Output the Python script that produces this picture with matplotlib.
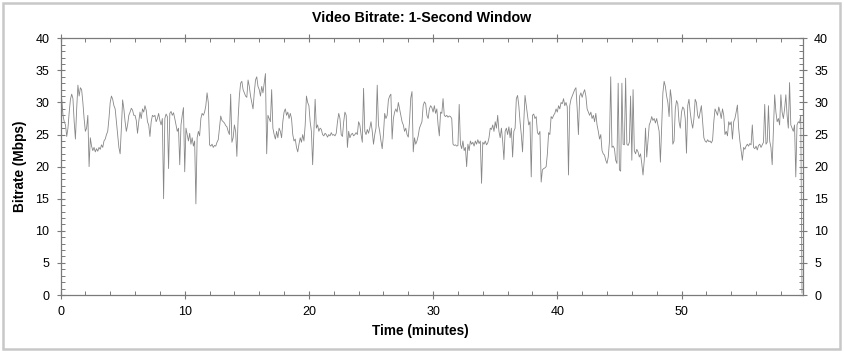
import numpy as np
import matplotlib
matplotlib.use('Agg')
import matplotlib.pyplot as plt
from matplotlib.ticker import MultipleLocator
from matplotlib.patches import Rectangle

plt.rcParams['font.family'] = ['Liberation Sans', 'DejaVu Sans']

# bitrate samples (Mbps), one every 0.1 minute
rate_00_10 = [
    3.5, 30.5, 28.0, 27.0, 26.5, 24.7, 26.0, 28.5, 30.5, 31.3,
    30.6, 27.0, 24.3, 29.0, 32.7, 31.0, 32.3, 32.0, 30.0, 27.5,
    25.5, 26.0, 28.0, 20.0, 24.5, 23.2, 22.5, 23.0, 22.3, 22.8,
    22.4, 23.0, 22.7, 23.4, 23.0, 24.0, 24.3, 25.0, 25.5, 27.5,
    30.0, 31.0, 30.5, 29.5, 29.0, 27.0, 25.0, 23.0, 22.0, 26.0,
    30.4, 29.0, 27.0, 25.5, 26.5, 28.0, 28.5, 29.1, 28.8, 28.0,
    28.0, 27.2, 25.2, 27.0, 28.5, 27.5, 29.0, 28.5, 29.5, 28.8,
    27.0, 26.5, 24.7, 27.0, 28.0, 27.8, 28.0, 27.0, 27.5, 28.3,
    27.2, 26.5, 27.5, 15.0, 27.5, 28.2, 27.8, 19.7, 28.3, 28.6,
    28.0, 28.4, 27.5, 26.5, 25.5, 26.0, 20.3, 26.5, 28.0, 29.2,
]
rate_10_20 = [
    19.2, 26.0, 25.0, 24.0, 25.2, 23.5, 24.5, 23.2, 24.0, 14.2,
    24.5, 25.5, 24.8, 27.5, 28.3, 28.0, 28.5, 29.5, 31.5, 30.0,
    23.4, 23.2, 23.5, 23.0, 23.3, 23.2, 23.8, 24.2, 26.0, 27.9,
    27.2, 27.0, 26.8, 26.4, 26.2, 25.5, 25.0, 31.3, 23.8, 24.5,
    26.5, 25.5, 21.6, 27.5, 31.0, 33.0, 33.3, 32.0, 31.5, 31.0,
    30.8, 33.5, 32.5, 31.0, 30.0, 29.0, 31.5, 33.5, 34.0, 32.5,
    32.0, 31.0, 32.5, 31.5, 33.0, 34.5, 22.0, 28.0, 27.5, 27.0,
    32.0, 26.0, 25.0, 24.3, 25.5, 24.5, 26.0, 25.5, 24.5, 27.0,
    28.5, 29.0, 28.0, 28.5, 27.5, 28.3, 27.5, 25.0, 24.0, 24.3,
    23.0, 22.3, 23.5, 24.5, 23.8, 25.0, 24.0, 26.5, 31.0, 30.0,
]
rate_20_30 = [
    29.5, 27.0, 25.5, 20.3, 25.5, 30.5, 26.0, 26.5, 25.5, 26.0,
    25.8, 25.0, 24.8, 25.2, 25.0, 24.6, 25.0, 24.8, 25.3, 24.9,
    25.0, 24.8, 25.2, 27.0, 28.3, 27.5, 25.0, 24.7, 27.0, 28.5,
    28.0, 23.0, 25.5, 24.5, 25.0, 25.2, 24.8, 25.0, 25.3, 25.0,
    27.0, 26.5, 25.0, 23.8, 32.2, 25.5, 25.0, 25.8, 25.2, 26.0,
    27.0, 25.5, 23.5, 25.0, 26.0, 32.7, 26.5, 25.5, 24.0, 22.8,
    25.0, 28.3, 27.5, 28.0, 30.4, 31.0, 31.3, 24.3, 27.5, 28.5,
    29.0, 28.5, 30.0, 29.0, 28.0, 27.0, 26.5, 25.5, 26.0, 25.0,
    24.6, 27.0, 30.7, 31.7, 22.3, 24.5, 23.5, 24.0, 24.8, 26.0,
    26.5, 27.0, 29.5, 30.1, 29.8, 28.0, 27.5, 29.0, 29.5, 29.2,
]
rate_30_40 = [
    28.5, 29.5, 28.3, 29.0, 26.5, 24.8, 28.5, 28.3, 30.6, 28.0,
    27.8, 28.0, 27.7, 27.9, 27.8, 27.5, 23.5, 23.3, 23.4, 23.2,
    23.3, 29.7, 23.5, 22.8, 24.0, 22.5, 23.0, 20.0, 23.5, 22.5,
    24.0, 23.5, 23.8, 23.2, 24.0, 23.5, 24.2, 23.6, 24.0, 17.4,
    23.8, 23.5, 24.0, 23.4, 23.7, 24.5, 26.0, 25.8, 26.5, 25.5,
    27.0, 26.0, 28.0, 25.5, 24.5, 26.0, 24.0, 21.1, 25.5, 26.0,
    25.0, 26.2, 24.5, 26.0, 21.5, 25.5, 26.0, 30.6, 31.1, 29.5,
    27.0, 25.0, 22.3, 27.0, 31.1, 29.5, 28.0, 26.5, 27.0, 18.4,
    28.0, 28.2, 27.5, 27.8, 25.3, 25.0, 25.5, 17.6, 19.5, 19.7,
    19.8, 20.0, 22.0, 25.3, 25.0, 27.8, 27.5, 28.0, 28.3, 29.0,
]
rate_40_50 = [
    28.5, 29.5, 29.0, 30.0, 29.8, 30.6, 29.5, 30.0, 29.3, 18.7,
    29.5, 30.5, 31.0, 31.5, 32.0, 32.3, 29.0, 25.0, 31.0, 31.5,
    30.8, 31.5, 32.0, 31.0, 29.0, 28.5, 28.0, 28.5, 27.5, 28.0,
    27.0, 28.3, 26.5, 25.5, 24.3, 25.0, 22.5, 22.0, 21.8, 21.0,
    20.5, 21.5, 24.0, 34.0, 23.0, 23.2, 22.8, 21.0, 20.5, 33.0,
    19.5, 19.3, 33.0, 23.5, 23.4, 33.8, 23.5, 23.3, 23.8, 31.0,
    21.0, 32.0, 22.5, 22.0, 22.7, 22.3, 21.5, 22.0, 20.5, 18.7,
    21.0, 26.0, 21.5, 24.0, 26.5, 27.0, 27.8, 27.2, 27.5, 26.8,
    27.5, 26.5, 25.5, 20.7, 26.0, 31.5, 33.3, 32.5, 31.0, 30.0,
    27.8, 32.0, 30.5, 23.5, 24.0, 29.0, 30.3, 29.8, 27.0, 26.0,
]
rate_50_60 = [
    28.5, 29.3, 29.0, 27.5, 22.1, 29.5, 30.5, 28.5, 27.0, 26.0,
    27.5, 30.5, 30.0, 28.0, 27.5, 28.5, 29.5, 27.0, 24.5, 24.0,
    23.8, 24.2, 23.9, 24.0, 23.7, 24.1, 27.0, 29.0, 28.5, 28.0,
    29.3, 28.5, 27.5, 29.0, 28.0, 25.0, 25.5, 24.8, 27.0, 26.5,
    27.0, 24.3, 27.0, 27.5, 28.5, 29.6, 26.0, 24.0, 22.5, 21.0,
    23.0, 22.7, 23.2, 23.5, 23.2, 23.6, 23.4, 26.5, 23.0, 22.8,
    23.2, 22.6, 23.3, 23.5, 23.0, 23.4, 23.8, 29.7, 23.5, 23.8,
    29.5, 24.0, 23.0, 20.3, 26.0, 31.2, 28.5, 27.0, 27.5, 26.5,
    31.2, 28.5, 27.5, 29.0, 31.2, 28.0, 26.0, 33.1, 26.5, 26.0,
    25.5, 26.5, 18.4, 26.5, 27.0, 26.8, 28.0, 0.3,
]

bitrate = np.array(rate_00_10 + rate_10_20 + rate_20_30 + rate_30_40 + rate_40_50 + rate_50_60)
minutes = np.arange(len(bitrate)) * 0.1

fig = plt.figure(figsize=(8.44, 3.53), dpi=100)
fig.patches.append(Rectangle((0.003, 0.012), 0.992, 0.98, transform=fig.transFigure,
                             fill=False, edgecolor='#c8c8c8', linewidth=1.8))

ax = fig.add_axes([0.0717, 0.1643, 0.8797, 0.7272])
ax.plot(minutes, bitrate, color='#878787', linewidth=0.6)

ax.set_xlim(0, 59.78)
ax.set_ylim(0, 40)
ax.xaxis.set_major_locator(MultipleLocator(10))
ax.xaxis.set_minor_locator(MultipleLocator(2))
ax.yaxis.set_major_locator(MultipleLocator(5))
ax.yaxis.set_minor_locator(MultipleLocator(1))

for s in ax.spines.values():
    s.set_color('#7a7a7a')
    s.set_linewidth(0.9)

ax.tick_params(which='major', direction='inout', length=6, width=0.8, color='#7a7a7a',
               labelsize=9, pad=5, top=True, right=True, labelright=True)
ax.tick_params(which='minor', direction='in', length=3, width=0.7, color='#7a7a7a',
               top=True, right=True)

fig.text(0.5, 0.949, 'Video Bitrate: 1-Second Window', fontsize=10.3, fontweight='bold',
         ha='center', va='center')
ax.set_xlabel('Time (minutes)', fontsize=9.8, fontweight='bold', labelpad=4)
ax.xaxis.label.set_x(0.484)
ax.set_ylabel('Bitrate (Mbps)', fontsize=9.8, fontweight='bold', labelpad=6)

fig.savefig('out.png', dpi=100)
